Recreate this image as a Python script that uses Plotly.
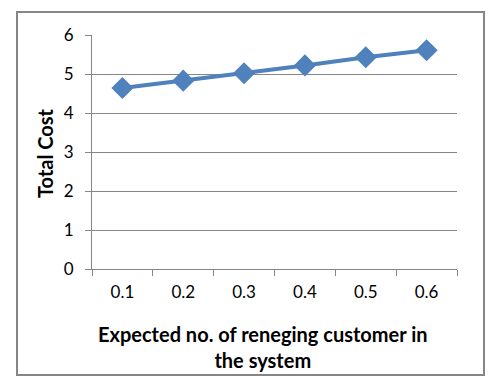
import plotly.graph_objects as go

categories = ["0.1", "0.2", "0.3", "0.4", "0.5", "0.6"]
total_cost = [4.64, 4.83, 5.02, 5.22, 5.43, 5.61]
y_ticks = [0, 1, 2, 3, 4, 5, 6]

W, H = 501, 388
L, R, T, B = 92, 44, 35, 119

fig = go.Figure()
fig.add_trace(go.Scatter(
    x=categories, y=total_cost, mode="lines+markers",
    line=dict(color="#4F81BD", width=4),
    marker=dict(symbol="diamond", size=17, color="#4F81BD"),
    showlegend=False, cliponaxis=False,
))

font_family = "Lato, 'Open Sans', sans-serif"
fig.update_layout(
    width=W, height=H,
    margin=dict(l=L, r=R, t=T, b=B),
    paper_bgcolor="white", plot_bgcolor="white",
    font=dict(family=font_family, size=17, color="#000000"),
    xaxis=dict(
        type="category", tickson="boundaries",
        showgrid=False, showline=True, linecolor="#868686", linewidth=1,
        ticks="outside", ticklen=6, tickcolor="#868686",
        tickfont=dict(size=17), range=[-0.5, 5.5], ticklabelstandoff=8,
    ),
    yaxis=dict(
        range=[0, 6], tickvals=y_ticks,
        showgrid=True, gridcolor="#868686", gridwidth=1,
        showline=True, linecolor="#868686", linewidth=1,
        ticks="outside", ticklen=6, tickcolor="#868686",
        tickfont=dict(size=17), zeroline=False, ticklabelstandoff=8,
    ),
    shapes=[dict(type="rect", xref="paper", yref="paper",
                 x0=-(L - 17) / (W - L - R), x1=1 + (484 - (W - R)) / (W - L - R),
                 y0=-(375 - (H - B)) / (H - T - B), y1=1 + (T - 12) / (H - T - B),
                 line=dict(color="#868686", width=2), fillcolor="rgba(0,0,0,0)",
                 layer="below")],
    annotations=[
        dict(text="<b>Total Cost</b>", textangle=-90, xref="paper", yref="paper",
             x=-(L - 45) / (W - L - R), y=(H - B - 153) / (H - T - B),
             showarrow=False, font=dict(size=20), xanchor="center", yanchor="middle"),
        dict(text="<b>Expected no. of reneging customer in<br>the system</b>",
             xref="paper", yref="paper", x=(263 - L) / (W - L - R),
             y=-(347 - (H - B)) / (H - T - B),
             showarrow=False, font=dict(size=20), xanchor="center", yanchor="middle"),
    ],
)
fig.write_html("out.html", config={"displayModeBar": False},
               post_script="document.body.style.margin='0';document.body.style.overflow='hidden';")
